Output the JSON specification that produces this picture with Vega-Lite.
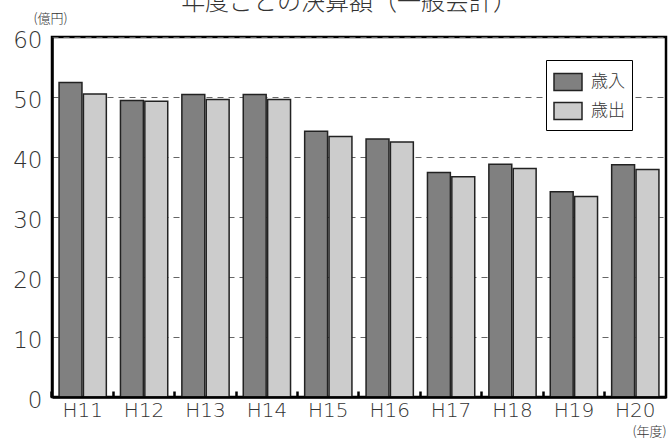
{
  "$schema": "https://vega.github.io/schema/vega-lite/v6.json",
  "width": 614,
  "height": 360,
  "autosize": {"type": "none"},
  "padding": {"left": 52, "top": 37, "right": 2, "bottom": 41},
  "background": "white",
  "title": {
    "text": "年度ごとの決算額（一般会計）",
    "fontSize": 24,
    "font": "Noto Sans CJK JP",
    "fontWeight": 300,
    "color": "#333333",
    "anchor": "middle",
    "dx": -10,
    "dy": 7
  },
  "data": {
    "values": [
      {"year": "H11", "kind": "歳入", "amount": 52.4},
      {"year": "H11", "kind": "歳出", "amount": 50.5},
      {"year": "H12", "kind": "歳入", "amount": 49.4},
      {"year": "H12", "kind": "歳出", "amount": 49.3},
      {"year": "H13", "kind": "歳入", "amount": 50.4},
      {"year": "H13", "kind": "歳出", "amount": 49.6},
      {"year": "H14", "kind": "歳入", "amount": 50.4},
      {"year": "H14", "kind": "歳出", "amount": 49.6},
      {"year": "H15", "kind": "歳入", "amount": 44.3},
      {"year": "H15", "kind": "歳出", "amount": 43.4},
      {"year": "H16", "kind": "歳入", "amount": 43.0},
      {"year": "H16", "kind": "歳出", "amount": 42.5},
      {"year": "H17", "kind": "歳入", "amount": 37.4},
      {"year": "H17", "kind": "歳出", "amount": 36.7},
      {"year": "H18", "kind": "歳入", "amount": 38.8},
      {"year": "H18", "kind": "歳出", "amount": 38.1},
      {"year": "H19", "kind": "歳入", "amount": 34.2},
      {"year": "H19", "kind": "歳出", "amount": 33.4},
      {"year": "H20", "kind": "歳入", "amount": 38.7},
      {"year": "H20", "kind": "歳出", "amount": 37.9}
    ]
  },
  "mark": {"type": "bar", "stroke": "#222222", "strokeWidth": 1.5},
  "encoding": {
    "x": {
      "field": "year",
      "type": "nominal",
      "sort": null,
      "title": "(年度)",
      "scale": {"paddingInner": 0.23, "paddingOuter": 0.115},
      "axis": {
        "labelAngle": 0,
        "labelFont": "DejaVu Sans",
        "labelFontWeight": 300,
        "labelFontSize": 20,
        "labelColor": "#333333",
        "labelPadding": 9,
        "ticks": true,
        "bandPosition": -0.15,
        "tickSize": -6,
        "tickWidth": 2.5,
        "tickColor": "black",
        "domainColor": "black",
        "domainWidth": 2.5,
        "zindex": 1,
        "titleFontSize": 13,
        "titleFontWeight": 300,
        "titleColor": "#333333",
        "titleX": 597,
        "titleY": 34,
        "titleAlign": "center",
        "titleBaseline": "middle"
      }
    },
    "xOffset": {
      "field": "kind",
      "type": "nominal",
      "sort": ["歳入", "歳出"],
      "scale": {"paddingInner": 0.06}
    },
    "y": {
      "field": "amount",
      "type": "quantitative",
      "title": "(億円)",
      "scale": {"domain": [0, 60]},
      "axis": {
        "values": [0, 10, 20, 30, 40, 50, 60],
        "labelFont": "DejaVu Sans",
        "labelFontWeight": 300,
        "labelFontSize": 23,
        "labelColor": "#333333",
        "labelPadding": 10,
        "labelOffset": 3,
        "ticks": false,
        "domainColor": "black",
        "domainWidth": 2.5,
        "grid": true,
        "gridColor": "#666666",
        "gridDash": [6, 5],
        "gridWidth": 1,
        "titleAngle": 0,
        "titleFontSize": 13,
        "titleFontWeight": 300,
        "titleColor": "#333333",
        "titleX": -2,
        "titleY": -19,
        "titleAlign": "center",
        "titleBaseline": "middle"
      }
    },
    "color": {
      "field": "kind",
      "type": "nominal",
      "sort": ["歳入", "歳出"],
      "scale": {"domain": ["歳入", "歳出"], "range": ["#808080", "#cccccc"]},
      "legend": {
        "title": null,
        "orient": "none",
        "legendX": 494,
        "legendY": 23,
        "direction": "vertical",
        "padding": 7,
        "strokeColor": "black",
        "fillColor": "white",
        "symbolType": "M-1,-0.6H1V0.6H-1Z",
        "symbolSize": 784,
        "symbolStrokeColor": "#222222",
        "symbolStrokeWidth": 1.5,
        "symbolOpacity": 1,
        "labelFontSize": 17,
        "labelFontWeight": 300,
        "labelColor": "#333333",
        "labelOffset": 8,
        "rowPadding": 2
      }
    }
  },
  "config": {
    "font": "Noto Sans CJK JP",
    "view": {"stroke": "black", "strokeWidth": 2.5},
    "axis": {"titleFont": "Noto Sans CJK JP"},
    "legend": {"labelFont": "Noto Sans CJK JP"}
  }
}
